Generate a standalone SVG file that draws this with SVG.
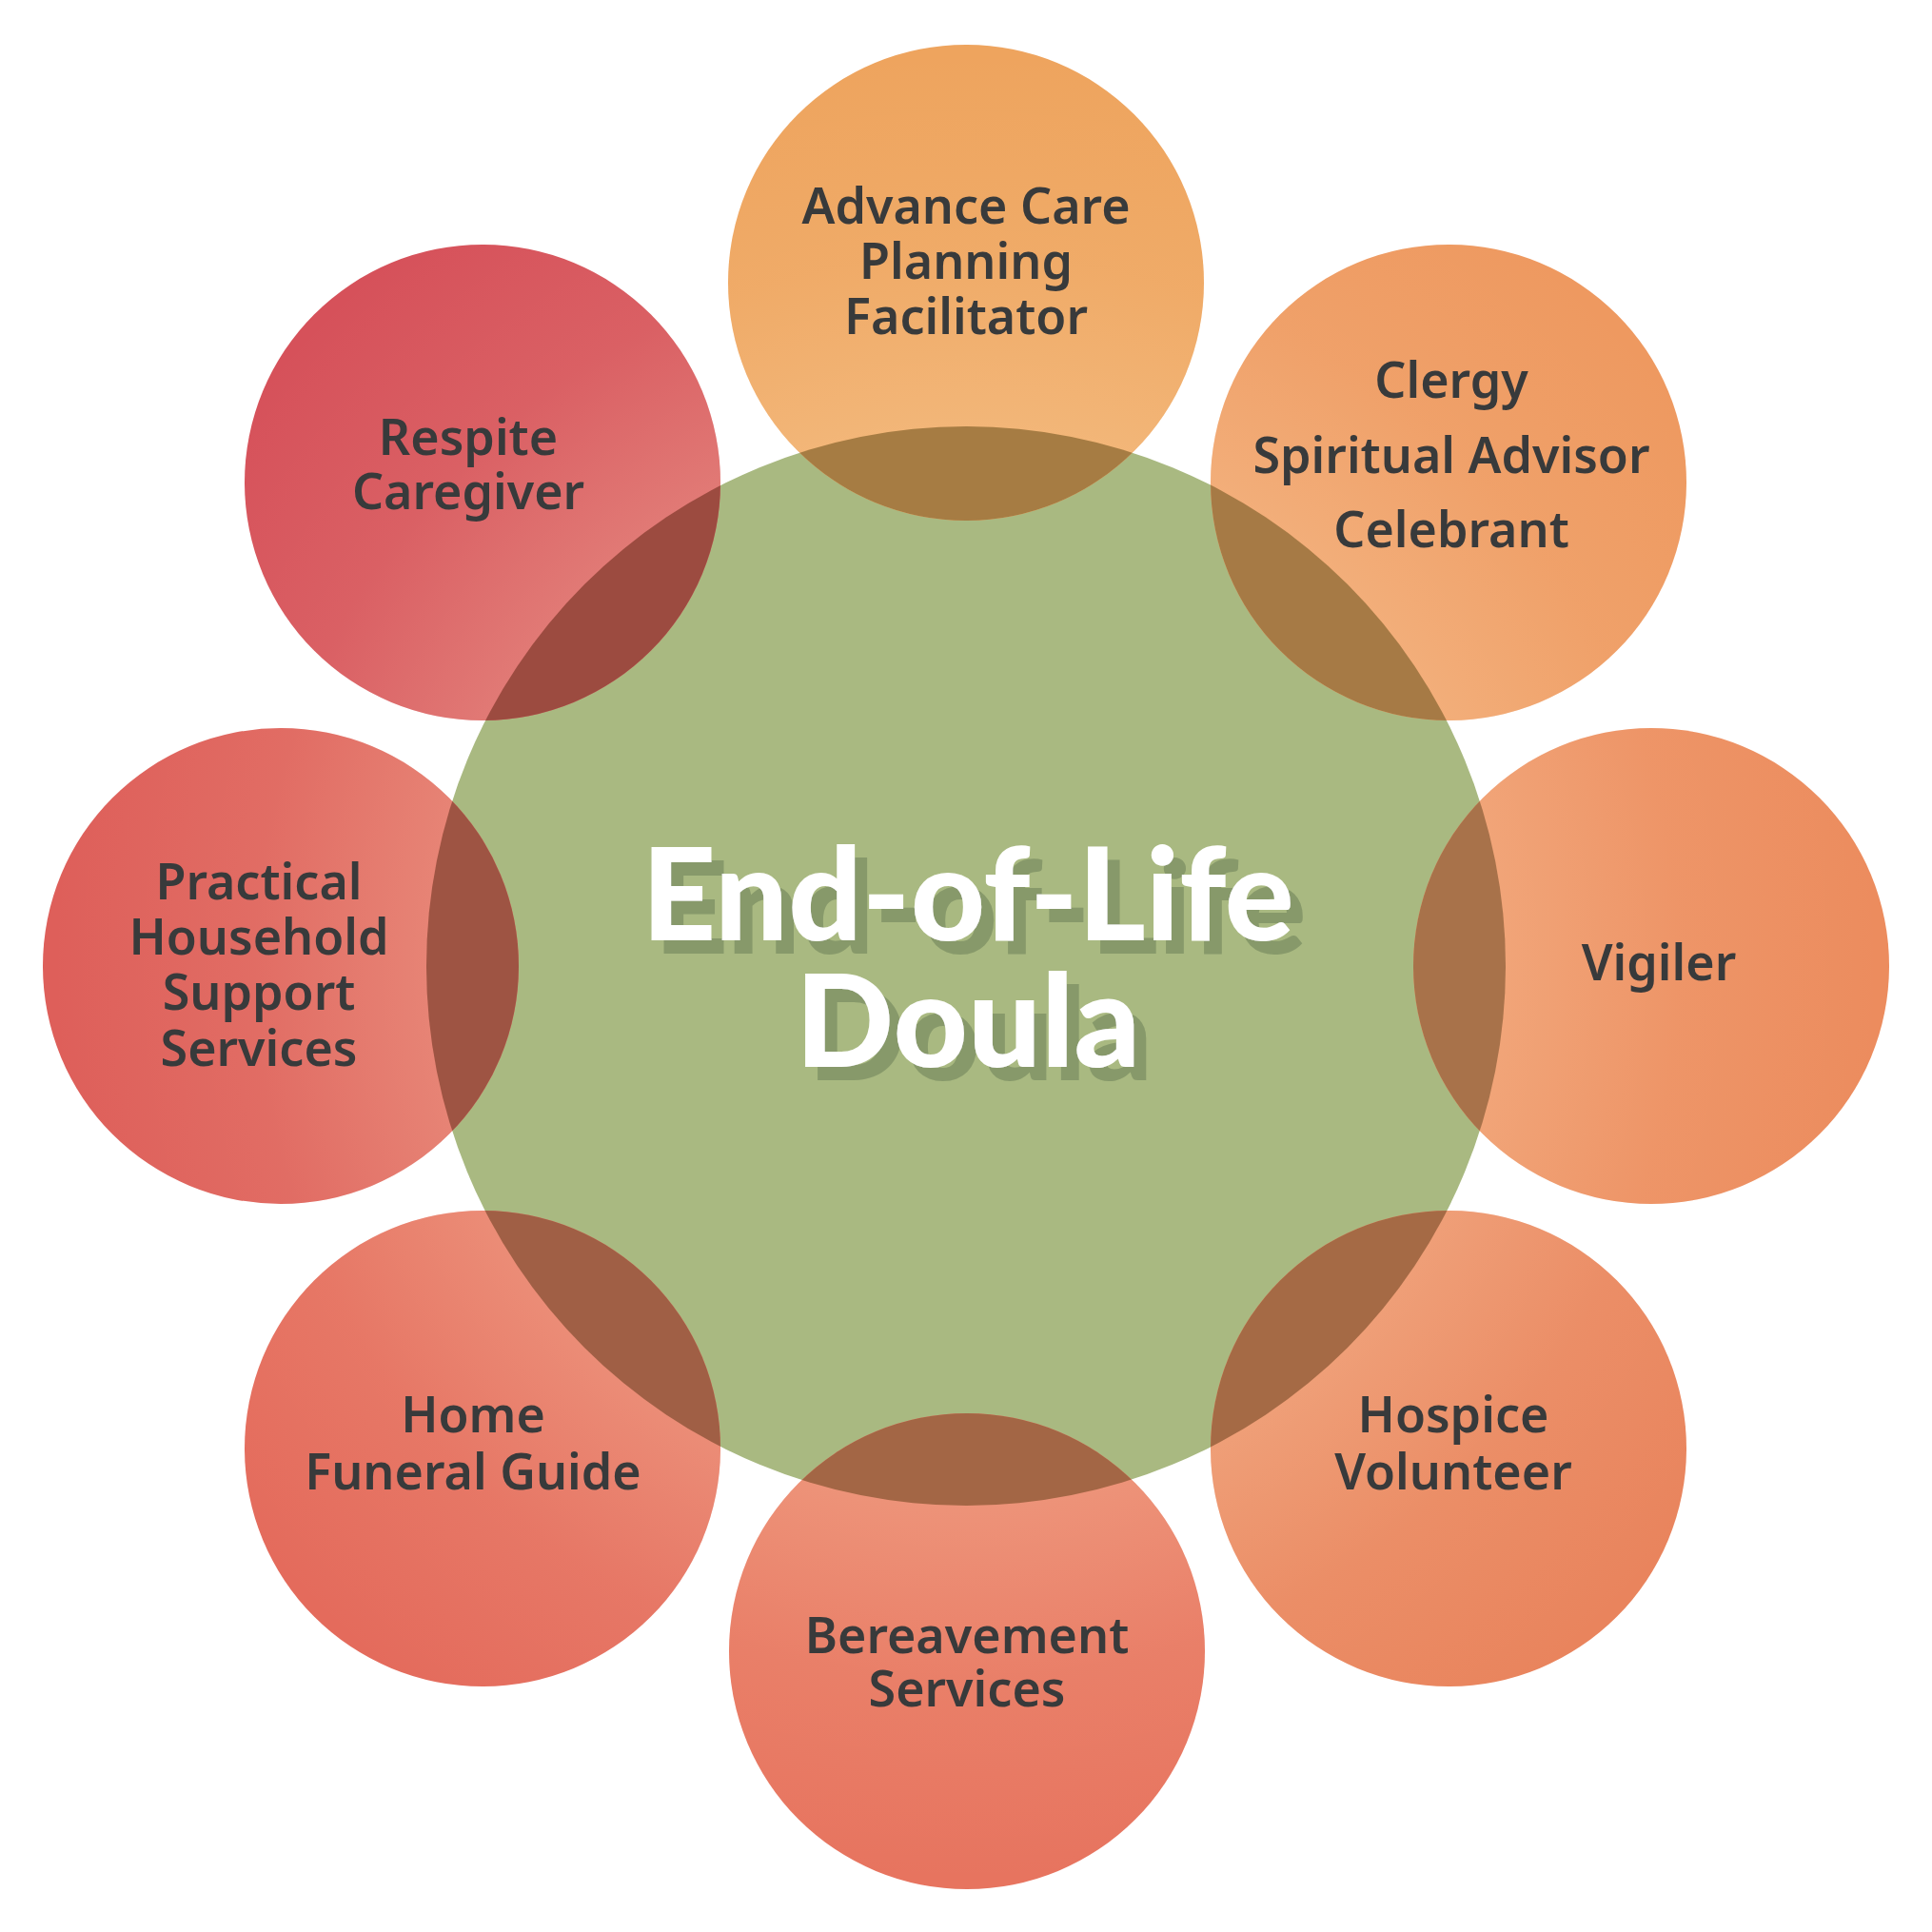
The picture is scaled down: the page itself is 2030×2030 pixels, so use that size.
<svg xmlns="http://www.w3.org/2000/svg" width="2030" height="2030" viewBox="0 0 2030 2030">
  <style>
    .lbl { font-family: "Noto Sans", "Open Sans", "Liberation Sans", sans-serif; font-weight: 600; font-size: 52px; fill: #383a3b; text-anchor: middle; }
    .ctr { font-family: Lato, "Roboto", "Liberation Sans", sans-serif; font-weight: 900; font-size: 136px; text-anchor: middle; fill: #ffffff; filter: url(#hardShadow); }
  </style>
  <defs>
    <clipPath id="clipCenter">
      <circle cx="1015" cy="1015" r="567"/>
    </clipPath>
    <radialGradient id="glow" gradientUnits="userSpaceOnUse" cx="1015" cy="1015" r="960">
      <stop offset="0" stop-color="#ffe6be" stop-opacity="0.27"/>
      <stop offset="0.59" stop-color="#ffe6be" stop-opacity="0.27"/>
      <stop offset="0.78" stop-color="#ffe6be" stop-opacity="0.1"/>
      <stop offset="1" stop-color="#ffe6be" stop-opacity="0"/>
    </radialGradient>
    <filter id="hardShadow" x="-10%" y="-20%" width="130%" height="150%">
      <feOffset in="SourceAlpha" dx="13" dy="14" result="off"/>
      <feFlood flood-color="#87996a"/>
      <feComposite in2="off" operator="in" result="shadow"/>
      <feMerge>
        <feMergeNode in="shadow"/>
        <feMergeNode in="SourceGraphic"/>
      </feMerge>
    </filter>
  </defs>
  <rect width="2030" height="2030" fill="#ffffff"/>

  <g id="center">
    <circle cx="1015" cy="1015" r="567" fill="#a9b981"/>
  </g>

  <g id="advance-care">
    <circle cx="1015" cy="297" r="250" fill="#eea45e"/>
    <circle cx="1015" cy="297" r="250" fill="url(#glow)"/>
    <circle cx="1015" cy="297" r="250" fill="#a67c43" clip-path="url(#clipCenter)"/>
    <text class="lbl"><tspan x="1015" y="235">Advance Care</tspan><tspan x="1015" y="293">Planning</tspan><tspan x="1015" y="351">Facilitator</tspan></text>
  </g>

  <g id="clergy">
    <circle cx="1522" cy="507" r="250" fill="#ee9960"/>
    <circle cx="1522" cy="507" r="250" fill="url(#glow)"/>
    <circle cx="1522" cy="507" r="250" fill="#a67a45" clip-path="url(#clipCenter)"/>
    <text class="lbl"><tspan x="1525" y="418">Clergy</tspan><tspan x="1525" y="497">Spiritual Advisor</tspan><tspan x="1525" y="575">Celebrant</tspan></text>
  </g>

  <g id="vigiler">
    <circle cx="1735" cy="1015" r="250" fill="#ec8c5e"/>
    <circle cx="1735" cy="1015" r="250" fill="url(#glow)"/>
    <circle cx="1735" cy="1015" r="250" fill="#a8724a" clip-path="url(#clipCenter)"/>
    <text class="lbl"><tspan x="1743" y="1030">Vigiler</tspan></text>
  </g>

  <g id="hospice">
    <circle cx="1522" cy="1522" r="250" fill="#e9845d"/>
    <circle cx="1522" cy="1522" r="250" fill="url(#glow)"/>
    <circle cx="1522" cy="1522" r="250" fill="#a56a45" clip-path="url(#clipCenter)"/>
    <text class="lbl"><tspan x="1527" y="1505">Hospice</tspan><tspan x="1527" y="1565">Volunteer</tspan></text>
  </g>

  <g id="bereavement">
    <circle cx="1016" cy="1735" r="250" fill="#e7745f"/>
    <circle cx="1016" cy="1735" r="250" fill="url(#glow)"/>
    <circle cx="1016" cy="1735" r="250" fill="#a36645" clip-path="url(#clipCenter)"/>
    <text class="lbl"><tspan x="1016" y="1737">Bereavement</tspan><tspan x="1016" y="1793">Services</tspan></text>
  </g>

  <g id="home-funeral">
    <circle cx="507" cy="1522" r="250" fill="#e46b5c"/>
    <circle cx="507" cy="1522" r="250" fill="url(#glow)"/>
    <circle cx="507" cy="1522" r="250" fill="#a05f45" clip-path="url(#clipCenter)"/>
    <text class="lbl"><tspan x="497" y="1505">Home</tspan><tspan x="497" y="1565">Funeral Guide</tspan></text>
  </g>

  <g id="practical">
    <circle cx="295" cy="1015" r="250" fill="#de5f5a"/>
    <circle cx="295" cy="1015" r="250" fill="url(#glow)"/>
    <circle cx="295" cy="1015" r="250" fill="#9e5443" clip-path="url(#clipCenter)"/>
    <text class="lbl"><tspan x="272" y="945">Practical</tspan><tspan x="272" y="1003">Household</tspan><tspan x="272" y="1061">Support</tspan><tspan x="272" y="1120">Services</tspan></text>
  </g>

  <g id="respite">
    <circle cx="507" cy="507" r="250" fill="#d6515a"/>
    <circle cx="507" cy="507" r="250" fill="url(#glow)"/>
    <circle cx="507" cy="507" r="250" fill="#9c4b40" clip-path="url(#clipCenter)"/>
    <text class="lbl"><tspan x="492" y="478">Respite</tspan><tspan x="492" y="535">Caregiver</tspan></text>
  </g>

  <g id="center-label">
    <text class="ctr"><tspan x="1017" y="988">End-of-Life</tspan><tspan x="1017" y="1121">Doula</tspan></text>
  </g>
</svg>
